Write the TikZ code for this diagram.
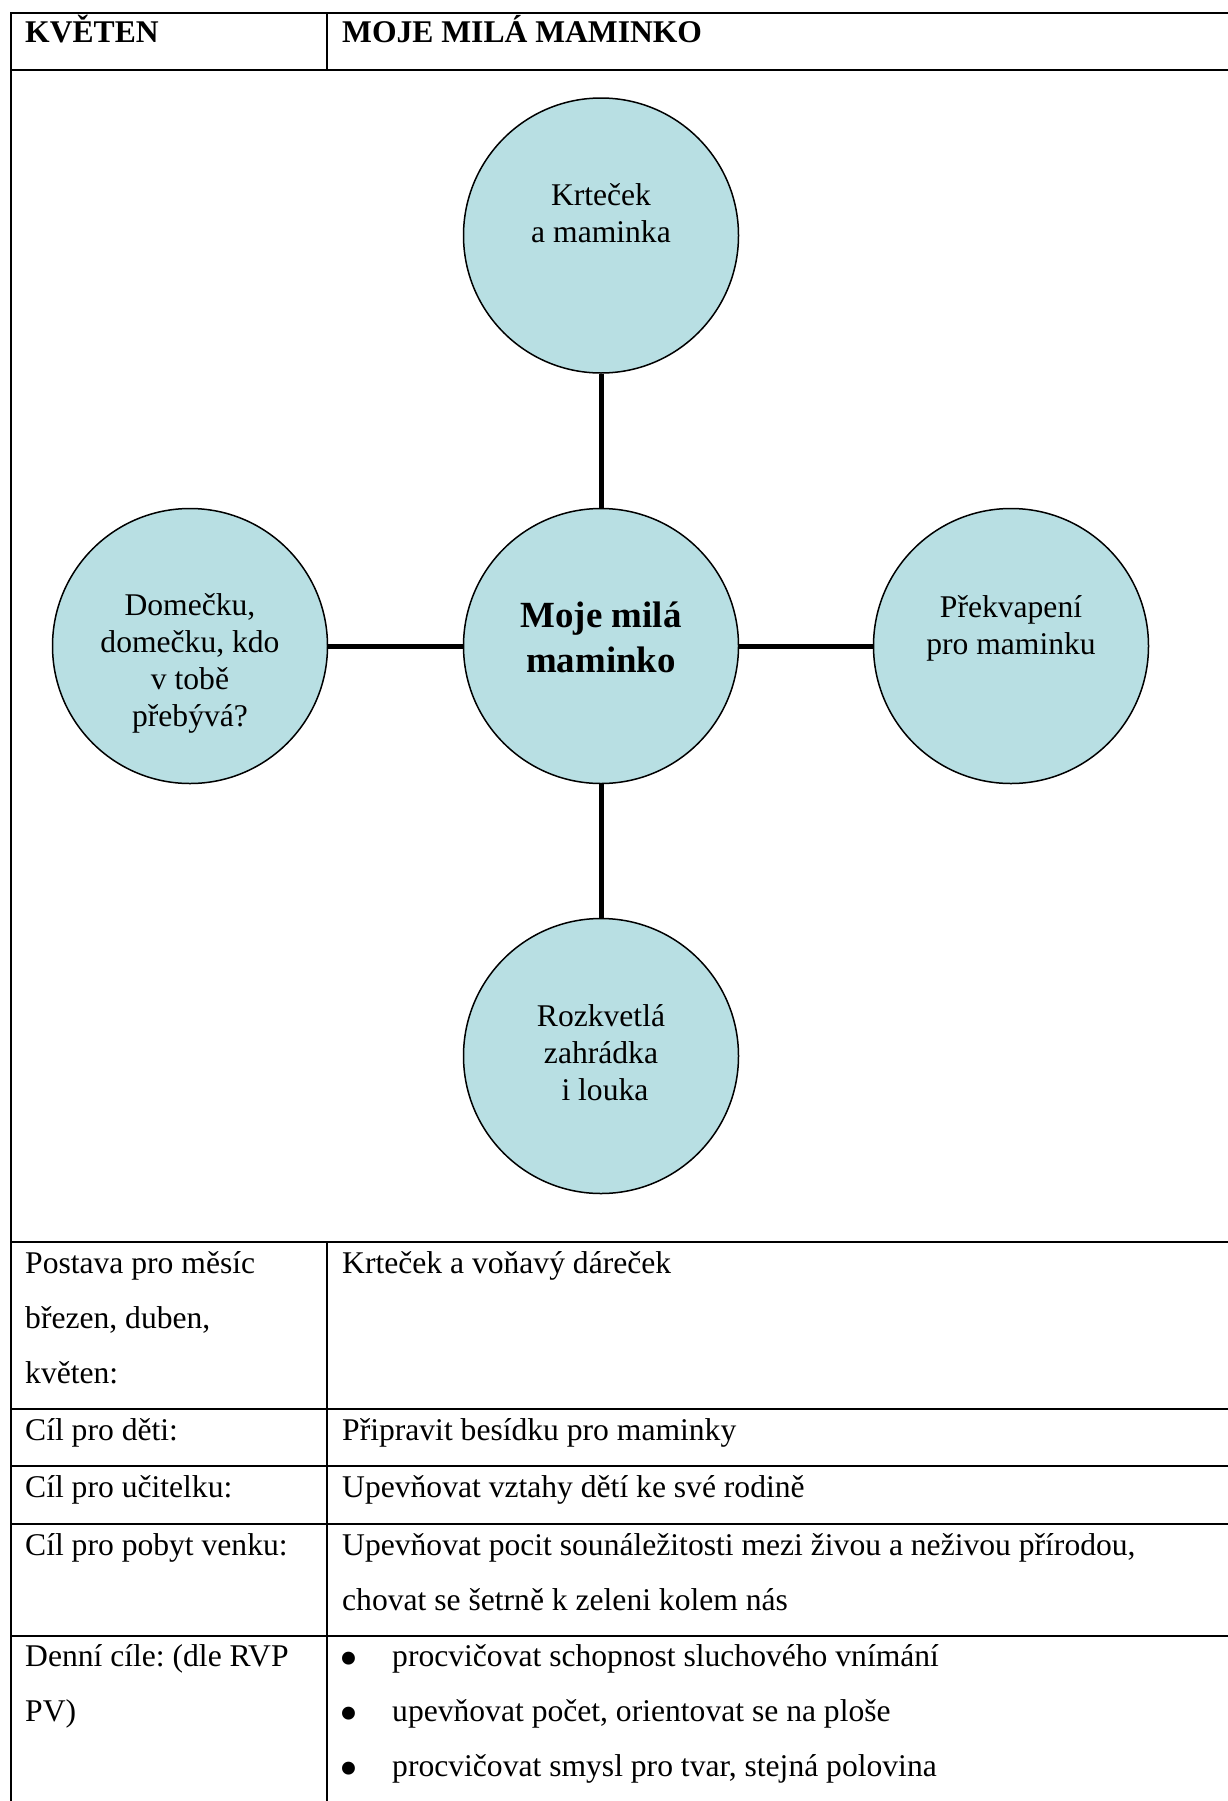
\documentclass[tikz,border=0pt]{standalone}
\usepackage{fontspec}
\setmainfont{Liberation Serif}
\definecolor{bubfill}{RGB}{184,223,227}
\newcommand\fsn{\fontsize{31.6}{37.3}\selectfont\frenchspacing}
\newcommand\fsb{\fontsize{36.9}{45}\selectfont\bfseries\frenchspacing}
\newcommand\fst{\fontsize{31.6}{55}\selectfont\frenchspacing}
\newcommand\fsbul{\fontsize{54}{58}\selectfont}
\begin{document}
\frenchspacing
\begin{tikzpicture}[x=1pt,y=-1pt,
  frame/.style={line width=2pt, line cap=rect},
  bub/.style={circle, draw=black, line width=1.5pt, fill=bubfill, minimum size=275pt, inner sep=0pt},
  link/.style={line width=5pt},
  ctext/.style={anchor=base, inner sep=0pt, font=\fsn},
  ttext/.style={anchor=base west, inner sep=0pt, font=\fst},
  bul/.style={anchor=center, inner sep=0pt, font=\fsbul}]
\useasboundingbox (0,0) rectangle (1227,1801);
\fill[white] (0,0) rectangle (1227,1801);
% table frame
\draw[frame] (11,13) -- (1227,13);
\draw[frame] (11,70) -- (1227,70);
\draw[frame] (11,1242) -- (1227,1242);
\draw[frame] (11,1409) -- (1227,1409);
\draw[frame] (11,1466) -- (1227,1466);
\draw[frame] (11,1524) -- (1227,1524);
\draw[frame] (11,1636) -- (1227,1636);
\draw[frame] (11,13) -- (11,1801);
\draw[frame] (327,13) -- (327,70);
\draw[frame] (327,1242) -- (327,1801);
% header
\node[ttext] (h1) at (25,43) {\textbf{KVĚTEN}};
\node[ttext] (h2) at (342,43) {\textbf{MOJE MILÁ MAMINKO}};
% circles
\node[bub] (top) at (601,235.5) {};
\node[bub] (mid) at (601,646) {};
\node[bub] (lft) at (190,646) {};
\node[bub] (rgt) at (1011,646) {};
\node[bub] (bot) at (601,1056) {};
\draw[link] (top) -- (mid);
\draw[link] (lft) -- (mid);
\draw[link] (mid) -- (rgt);
\draw[link] (mid) -- (bot);
\node[ctext] (topt) at (601,205) {\begin{tabular}[t]{@{}c@{}}Krteček\\a maminka\end{tabular}};
\node[ctext, font=\fsb] (midt) at (601,627) {\begin{tabular}[t]{@{}c@{}}Moje milá\\maminko\end{tabular}};
\node[ctext] (lftt) at (190,615) {\begin{tabular}[t]{@{}c@{}}Domečku,\\domečku, kdo\\v tobě\\přebývá?\end{tabular}};
\node[ctext] (rgtt) at (1011,617) {\begin{tabular}[t]{@{}c@{}}Překvapení\\pro maminku\end{tabular}};
\node[ctext] (bott) at (601,1026) {\begin{tabular}[t]{@{}c@{}}Rozkvetlá\\zahrádka\\\ i louka\end{tabular}};
% table body
\node[ttext] (r1l) at (25,1273) {\begin{tabular}[t]{@{}l@{}}Postava pro měsíc\\březen, duben,\\květen:\end{tabular}};
\node[ttext] (r1r) at (342,1273) {Krteček a voňavý dáreček};
\node[ttext] (r2l) at (25,1440) {Cíl pro děti:};
\node[ttext] (r2r) at (342,1440) {Připravit besídku pro maminky};
\node[ttext] (r3l) at (25,1497) {Cíl pro učitelku:};
\node[ttext] (r3r) at (342,1497) {Upevňovat vztahy dětí ke své rodině};
\node[ttext] (r4l) at (25,1555) {Cíl pro pobyt venku:};
\node[ttext] (r4r) at (342,1555) {\begin{tabular}[t]{@{}l@{}}Upevňovat pocit sounáležitosti mezi živou a neživou přírodou,\\chovat se šetrně k zeleni kolem nás\end{tabular}};
\node[ttext] (r5l) at (25,1666) {\begin{tabular}[t]{@{}l@{}}Denní cíle: (dle RVP\\PV)\end{tabular}};
\node[bul] (b1) at (349,1664) {•};
\node[bul] (b2) at (349,1719) {•};
\node[bul] (b3) at (349,1774) {•};
\node[ttext] (r5r) at (392,1666) {\begin{tabular}[t]{@{}l@{}}procvičovat schopnost sluchového vnímání\\upevňovat počet, orientovat se na ploše\\procvičovat smysl pro tvar, stejná polovina\end{tabular}};
\end{tikzpicture}
\end{document}
